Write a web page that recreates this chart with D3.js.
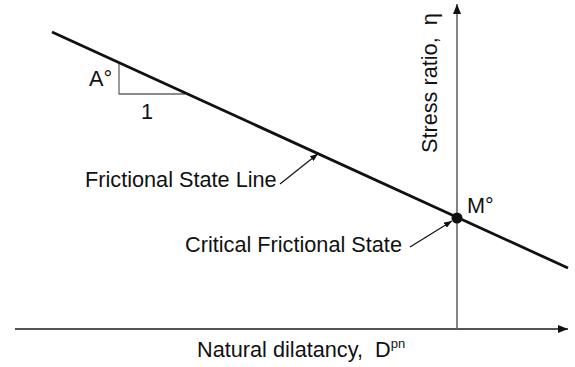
<!DOCTYPE html>
<html>
<head>
<meta charset="utf-8">
<script src="https://cdn.jsdelivr.net/npm/d3@7"></script>
<style>
  html, body { margin: 0; padding: 0; background: #fff; }
  svg { display: block; }
  text { font-family: "Liberation Sans", Arial, sans-serif; fill: #111; white-space: pre; }
</style>
</head>
<body>
<svg id="chart" width="575" height="367"></svg>
<script>
// ---- data (schematic units: D = natural dilatancy, eta = stress ratio) ----
const lineD = [-4.05, 1.11];          // frictional state line end points (D)
const lineEta = [2.97, 0.61];         // frictional state line end points (eta)
const criticalD = [0];                // critical frictional state (D)
const criticalEta = [1.11];           // M°
const slopeD = [-3.38, -3.38, -2.72]; // slope triangle
const slopeEta = [2.67, 2.35, 2.35];
const axisLabels = ["Natural dilatancy,  D", "Stress ratio,  \u03b7"];
const pointLabels = ["M\u00b0", "A\u00b0", "1"];
const noteLabels = ["Frictional State Line", "Critical Frictional State"];

const x = d3.scaleLinear().domain([-4.42, 1.11]).range([15, 568]);
const y = d3.scaleLinear().domain([0, 3.25]).range([329, 4]);
const onLine = (d) => lineEta[0] + (d - lineD[0]) / (lineD[1] - lineD[0]) * (lineEta[1] - lineEta[0]);

const svg = d3.select("#chart");
const defs = svg.append("defs");
function marker(id, w, h, color) {
  defs.append("marker").attr("id", id)
    .attr("viewBox", `0 0 ${w} ${h}`).attr("refX", w).attr("refY", h / 2)
    .attr("markerWidth", w).attr("markerHeight", h)
    .attr("markerUnits", "userSpaceOnUse").attr("orient", "auto")
    .append("path").attr("d", `M0,0L${w},${h/2}L0,${h}Z`).attr("fill", color);
}
marker("axisHead", 10, 8, "#111");
marker("noteHead", 8, 6, "#111");

// axes
svg.append("line")
  .attr("x1", x(-4.42)).attr("y1", y(0)).attr("x2", x(1.11)).attr("y2", y(0))
  .attr("stroke", "#555").attr("stroke-width", 2.2).attr("marker-end", "url(#axisHead)");
svg.append("line")
  .attr("x1", x(0)).attr("y1", y(0)).attr("x2", x(0)).attr("y2", y(3.25))
  .attr("stroke", "#666").attr("stroke-width", 1.6).attr("marker-end", "url(#axisHead)");

// slope triangle
const tri = d3.line().x((d, i) => x(slopeD[i])).y((d, i) => y(slopeEta[i]));
svg.append("path").attr("d", tri(slopeD))
  .attr("fill", "none").attr("stroke", "#666").attr("stroke-width", 1.3);

// frictional state line
const fl = d3.line().x((d, i) => x(lineD[i])).y((d, i) => y(lineEta[i]));
svg.append("path").attr("d", fl(lineD))
  .attr("fill", "none").attr("stroke", "#111").attr("stroke-width", 2.8);

// critical point
svg.selectAll("circle.cp").data(criticalD).join("circle").attr("class", "cp")
  .attr("cx", (d) => x(d)).attr("cy", (d, i) => y(criticalEta[i])).attr("r", 5.5)
  .attr("fill", "#111");

const fs = 21.7;
// axis labels
const xl = svg.append("text").attr("x", 197).attr("y", 357).attr("font-size", fs)
  .text(axisLabels[0]);
xl.append("tspan").attr("font-size", 13).attr("dy", -9).text("pn");

svg.append("text").attr("transform", "translate(437,153) rotate(-90)")
  .attr("font-size", fs).text(axisLabels[1]);

// point labels
svg.append("text").attr("x", 467).attr("y", 213).attr("font-size", fs).text(pointLabels[0]);
svg.append("text").attr("x", 89).attr("y", 86).attr("font-size", fs).text(pointLabels[1]);
svg.append("text").attr("x", 141).attr("y", 119).attr("font-size", fs).text(pointLabels[2]);

// notes with arrows
svg.append("text").attr("x", 85).attr("y", 187).attr("font-size", fs).text(noteLabels[0]);
svg.append("line").attr("x1", 280).attr("y1", 184).attr("x2", x(-1.39)).attr("y2", y(onLine(-1.39)))
  .attr("stroke", "#111").attr("stroke-width", 1.2).attr("marker-end", "url(#noteHead)");
svg.append("text").attr("x", 185).attr("y", 252).attr("font-size", fs).text(noteLabels[1]);
svg.append("line").attr("x1", 410).attr("y1", 247).attr("x2", 452).attr("y2", 221)
  .attr("stroke", "#111").attr("stroke-width", 1.2).attr("marker-end", "url(#noteHead)");
</script>
</body>
</html>
